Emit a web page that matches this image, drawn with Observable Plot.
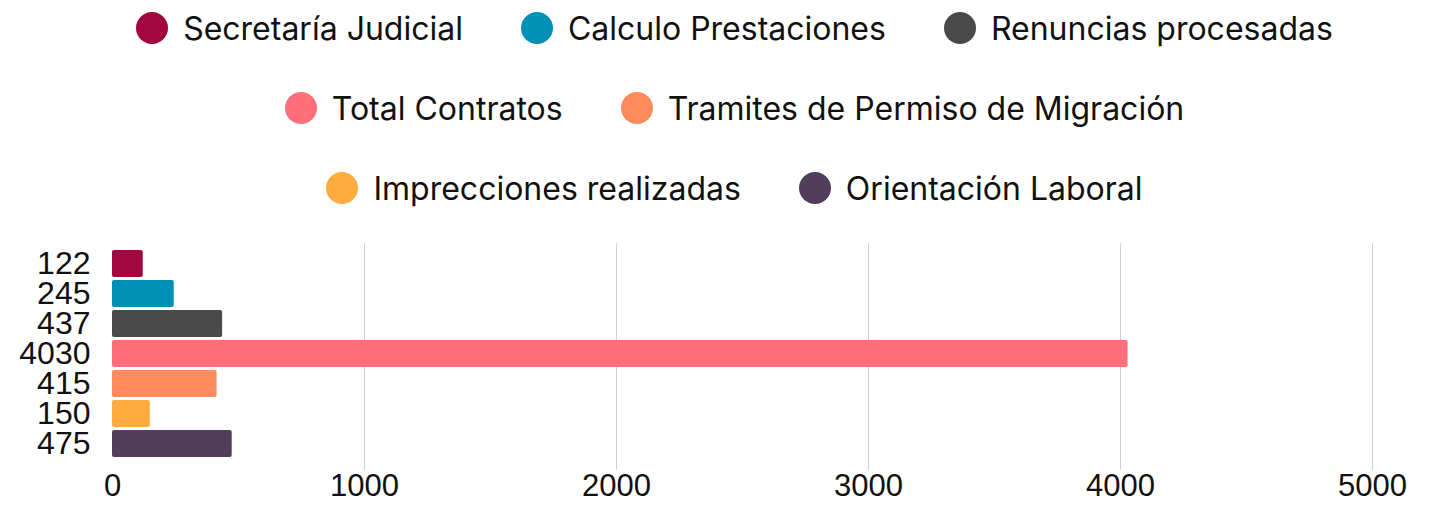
<!DOCTYPE html>
<html>
<head>
<meta charset="utf-8">
<script src="https://cdn.jsdelivr.net/npm/d3@7"></script>
<script src="https://cdn.jsdelivr.net/npm/@observablehq/plot@0.6"></script>
<style>
  html, body { margin: 0; padding: 0; background: #fff; }
  #wrap { width: 1429px; height: 506px; overflow: hidden; }
  .legend { font-family: Inter, "Noto Sans", sans-serif; font-size: 32px; color: #111; padding-left: 40px; }
  .row { height: 56px; margin-bottom: 24px; display: flex; justify-content: center; align-items: center; gap: 58px; }
  .row:last-child { margin-bottom: 0; }
  .item { display: flex; align-items: center; gap: 15px; white-space: nowrap; }
  .dot { width: 32px; height: 32px; border-radius: 50%; display: inline-block; }
  svg { display: block; }
</style>
</head>
<body>
<div id="wrap">
  <div class="legend" id="legend"></div>
  <div id="chart"></div>
</div>
<script>
const categories = ["Secretaría Judicial", "Calculo Prestaciones", "Renuncias procesadas", "Total Contratos", "Tramites de Permiso de Migración", "Imprecciones realizadas", "Orientación Laboral"];
const values = [122, 245, 437, 4030, 415, 150, 475];
const colors = ["#a3063f", "#008fb6", "#4a4a4a", "#ff6e7a", "#ff8a5c", "#ffac3e", "#523e5c"];
const legendRows = [[0, 1, 2], [3, 4], [5, 6]];
const xTicks = [0, 1000, 2000, 3000, 4000, 5000];

const data = categories.map((c, i) => ({category: c, value: values[i], color: colors[i]}));

const legend = document.getElementById("legend");
for (const row of legendRows) {
  const r = document.createElement("div");
  r.className = "row";
  for (const i of row) {
    const it = document.createElement("div");
    it.className = "item";
    const d = document.createElement("span");
    d.className = "dot";
    d.style.background = colors[i];
    const t = document.createElement("span");
    t.textContent = categories[i];
    it.append(d, t);
    r.append(it);
  }
  legend.append(r);
}

const chart = Plot.plot({
  width: 1429,
  height: 287,
  marginTop: 27,
  marginBottom: 33,
  marginLeft: 112,
  marginRight: 57,
  style: {fontFamily: "'Liberation Sans', Arial, sans-serif", fontSize: "32px", color: "#111", background: "#fff"},
  x: {domain: [0, 5000], ticks: xTicks, label: null},
  y: {domain: categories, label: null, paddingInner: 0.1, paddingOuter: 0, insetTop: 4, insetBottom: 11},
  color: {domain: categories, range: colors},
  marks: [
    Plot.gridX(xTicks.filter(d => d > 0), {stroke: "#d0d0d0", strokeOpacity: 1, strokeWidth: 1}),
    Plot.barX(data, {y: "category", x: "value", fill: "category", rx: 2}),
    Plot.axisX({ticks: xTicks, tickSize: 0, tickPadding: 3, label: null, fontSize: 31, tickFormat: d => String(d)}),
    Plot.axisY({tickSize: 0, tickPadding: 22, label: null, fontSize: 32, tickFormat: c => String(values[categories.indexOf(c)])})
  ]
});
document.getElementById("chart").append(chart);
</script>
</body>
</html>
